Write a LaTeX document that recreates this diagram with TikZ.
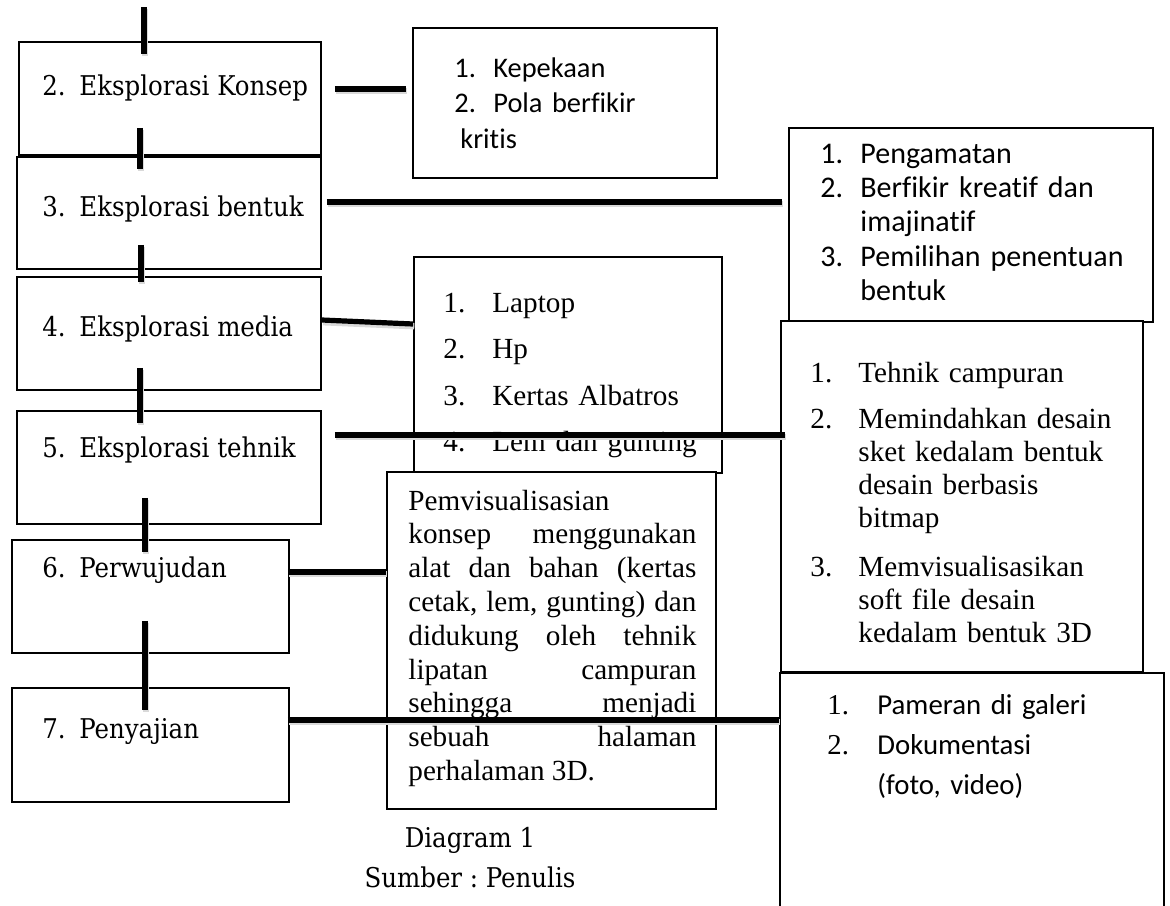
\documentclass[tikz,border=0pt]{standalone}
\usepackage{fontspec}
\newfontfamily\calibrifont{Carlito}[Ligatures=NoCommon]
\newfontfamily\timesfont{Liberation Serif}[Ligatures=NoCommon]
\newfontfamily\cambriafont{DejaVu Serif Condensed}
\usepackage{tikz}
\usetikzlibrary{calc,fit,positioning}
\hbadness=10000
\frenchspacing
\tikzset{>=latex}
% number column of a list line
\newcommand\itemno[2][18.5pt]{\makebox[#1][l]{#2}}

\begin{document}
\begin{tikzpicture}[x=0.5pt, y=-0.5pt,
  box/.style={draw, line width=0.9pt, fill=white, inner sep=0pt},
  link/.style={line width=2.6pt,
    preaction={draw=black!15, line width=3.2pt, transform canvas={shift={(0.6pt,-1.1pt)}}}},
  txt/.style={inner sep=0pt, anchor=base west, align=left},
  steplbl/.style={txt, font=\cambriafont\fontsize{13.6}{17}\selectfont}]
  \clip (0,0) rectangle (1170,905);
  % boxes of the steps
  \node[box, fit={(19,42) (321,155)}] (b2) {};%
  \node[box, fit={(17,157) (321,269)}] (b3) {};%
  \node[box, fit={(17,277) (321,390)}] (b4) {};%
  \node[box, fit={(17,411) (321,524)}] (b5) {};%
  \node[box, fit={(12,540) (289,653)}] (b6) {};%
  \node[box, fit={(12,688) (289,802)}] (b7) {};%
  % boxes of the details
  \node[box, fit={(413,28) (717,178)}] (kp) {};%
  \node[box, fit={(789,128) (1153,322)}] (pg) {};%
  \node[box, fit={(414,257) (722,473)}] (lp) {};%
  \node[box, fit={(781,321) (1143,672)}] (th) {};%
  \node[box, fit={(387,472) (716,809)}] (pv) {};%
  \node[box, fit={(780,673) (1164,930)}] (pm) {};%
  % step texts
  \node[steplbl] (t2) at (42,95) {\itemno{2.}Eksplorasi Konsep};%
  \node[steplbl] (t3) at (42,216) {\itemno{3.}Eksplorasi bentuk};%
  \node[steplbl] (t4) at (42,336) {\itemno{4.}Eksplorasi media};%
  \node[steplbl] (t5) at (42,457) {\itemno{5.}Eksplorasi tehnik};%
  \node[steplbl] (t6) at (42,577) {\itemno{6.}Perwujudan};%
  \node[steplbl] (t7) at (42,738) {\itemno{7.}Penyajian};%
  % detail texts
  \node[txt, text width=130pt, font=\calibrifont\fontsize{14.2}{17.9}\selectfont] (kpt) at (454,77)
    {\itemno[19.5pt]{1.}Kepekaan\\ \itemno[19.5pt]{2.}Pola berfikir\\ \hspace*{3pt}kritis};%
  \node[txt, text width=165pt, font=\calibrifont\fontsize{15}{17.2}\selectfont] (pgt) at (820,163)
    {\itemno[20pt]{1.}Pengamatan\\ \itemno[20pt]{2.}Berfikir kreatif dan\\ \itemno[20pt]{}imajinatif\\
     \itemno[20pt]{3.}Pemilihan penentuan\\ \itemno[20pt]{}bentuk};%
  \node[txt, text width=140pt, font=\timesfont\fontsize{14.6}{23.3}\selectfont] (lpt) at (443,312)
    {\itemno[24.5pt]{1.}Laptop\\ \itemno[24.5pt]{2.}Hp\\ \itemno[24.5pt]{3.}Kertas Albatros\\
     \itemno[24.5pt]{4.}Lem dan gunting};%
  \node[txt, text width=170pt, font=\timesfont\fontsize{14.6}{16.5}\selectfont] (tht) at (810,382)
    {\itemno[24pt]{1.}Tehnik campuran\\[6.5pt] \itemno[24pt]{2.}Memindahkan desain\\
     \itemno[24pt]{}sket kedalam bentuk\\ \itemno[24pt]{}desain berbasis\\ \itemno[24pt]{}bitmap\\[8pt]
     \itemno[24pt]{3.}Memvisualisasikan\\ \itemno[24pt]{}soft file desain\\ \itemno[24pt]{}kedalam bentuk 3D};%
  \node[txt, text width=144pt, align=justify, font=\timesfont\fontsize{14.6}{16.9}\selectfont] (pvt) at (408,510)
    {Pemvisualisasian\\ konsep menggunakan\linebreak alat dan bahan (kertas\linebreak
     cetak, lem, gunting) dan\linebreak didukung oleh tehnik\linebreak lipatan campuran\linebreak
     sehingga menjadi\linebreak sebuah halaman\linebreak perhalaman 3D.};%
  \node[txt, text width=170pt, font=\calibrifont\fontsize{14.4}{20}\selectfont] (pmt) at (827,714)
    {\itemno[25pt]{\timesfont 1.}Pameran di galeri\\ \itemno[25pt]{\timesfont 2.}Dokumentasi\\
     \itemno[25pt]{}(foto, video)};%
  % caption
  \node[steplbl, anchor=base] (cap1) at (470,847) {Diagram 1};%
  \node[steplbl, anchor=base] (cap2) at (470,887) {Sumber : Penulis};%
  % stubs between the steps
  \draw[link] (b2.north -| 144,0) ++(0,-34) -- ++(0,47);%
  \draw[link] ($(b2.south -| 140,0)+(0,-28)$) -- ($(b3.north -| 140,0)+(0,13)$);%
  \draw[link] ($(b3.south -| 141,0)+(0,-25)$) -- ($(b4.north -| 141,0)+(0,6)$);%
  \draw[link] ($(b4.south -| 140,0)+(0,-23)$) -- ($(b5.north -| 140,0)+(0,13)$);%
  \draw[link] ($(b5.south -| 145,0)+(0,-27)$) -- ($(b6.north -| 145,0)+(0,13)$);%
  \draw[link] ($(b6.south -| 145,0)+(0,-33)$) -- ($(b7.north -| 145,0)+(0,23)$);%
  % links to the details
  \draw[link, shorten <=6.5pt, shorten >=3pt] (b2.east |- 0,89) -- (kp.west |- 0,89);%
  \draw[link, shorten <=2.5pt, shorten >=3pt] (b3.east |- 0,202) -- (pg.west |- 0,202);%
  \draw[link] (b4.east |- 0,320) -- (lp.west |- 0,324);%
  \draw[link, shorten <=6.5pt, shorten >=-2.5pt] (b5.east |- 0,435) -- (th.west |- 0,435);%
  \draw[link, shorten <=-1pt] (b6.east |- 0,572) -- (pv.west |- 0,572);%
  \draw[link, shorten <=-1pt] (b7.east |- 0,720) -- (pm.west |- 0,720);%
\end{tikzpicture}
\end{document}
